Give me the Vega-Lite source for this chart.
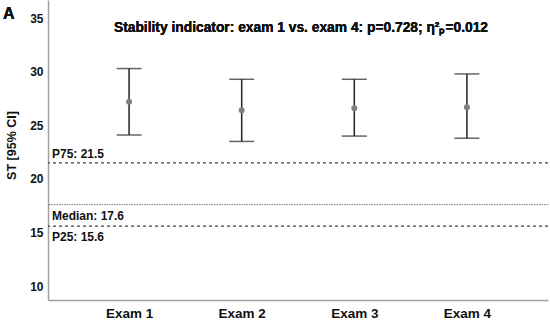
{
  "$schema": "https://vega.github.io/schema/vega-lite/v6.json",
  "width": 500,
  "height": 300,
  "autosize": {"type": "none"},
  "padding": {"left": 48, "top": 0, "right": 2, "bottom": 20},
  "background": "white",
  "config": {
    "view": {"stroke": null},
    "font": "Liberation Sans",
    "axis": {"grid": false, "ticks": false, "domainColor": "#a0a0a0", "domainWidth": 1.5, "labelFont": "Liberation Sans", "labelFontWeight": "bold", "labelColor": "#111", "titleFont": "Liberation Sans", "titleFontWeight": "bold", "titleColor": "#111"}
  },
  "datasets": {
    "exams": [
      {"exam": "Exam 1", "mean": 27.2, "lo": 24.1, "hi": 30.3},
      {"exam": "Exam 2", "mean": 26.4, "lo": 23.5, "hi": 29.3},
      {"exam": "Exam 3", "mean": 26.6, "lo": 24.0, "hi": 29.3},
      {"exam": "Exam 4", "mean": 26.7, "lo": 23.8, "hi": 29.8}
    ],
    "refs": [
      {"name": "P75", "value": 21.5, "label": "P75: 21.5", "x": 0},
      {"name": "Median", "value": 17.6, "label": "Median: 17.6", "x": 0},
      {"name": "P25", "value": 15.6, "label": "P25: 15.6", "x": 0}
    ]
  },
  "layer": [
    {
      "layer": [
        {
          "data": {"name": "refs"},
          "transform": [{"filter": "datum.name != 'Median'"}],
          "mark": {"type": "rule", "color": "#444", "strokeWidth": 1.2, "strokeDash": [3, 3]},
          "encoding": {"y": {"field": "value", "type": "quantitative", "scale": {"domain": [8.7, 36.7], "nice": false, "zero": false}}}
        },
        {
          "data": {"name": "refs"},
          "transform": [{"filter": "datum.name == 'Median'"}],
          "mark": {"type": "rule", "color": "#777", "strokeWidth": 1, "strokeDash": [1.5, 1]},
          "encoding": {"y": {"field": "value", "type": "quantitative"}}
        },
        {
          "data": {"name": "exams"},
          "mark": {"type": "rule", "color": "#222", "strokeWidth": 1.5},
          "encoding": {
            "x": {"field": "exam", "type": "nominal", "scale": {"type": "point", "padding": 0.72}, "axis": {"title": null, "labelAngle": 0, "labelFontSize": 13.5, "labelPadding": 6}},
            "y": {"field": "lo", "type": "quantitative", "axis": {"title": "ST [95% CI]", "titleFontSize": 12.5, "titleFontWeight": "bold", "titleY": 145, "values": [10, 15, 20, 25, 30, 35], "labelFontSize": 12, "labelPadding": 5, "titlePadding": 11}},
            "y2": {"field": "hi"}
          }
        },
        {
          "data": {"name": "exams"},
          "mark": {"type": "tick", "color": "#222", "thickness": 1.5, "size": 25, "orient": "horizontal"},
          "encoding": {
            "x": {"field": "exam", "type": "nominal"},
            "y": {"field": "lo", "type": "quantitative"}
          }
        },
        {
          "data": {"name": "exams"},
          "mark": {"type": "tick", "color": "#222", "thickness": 1.5, "size": 25, "orient": "horizontal"},
          "encoding": {
            "x": {"field": "exam", "type": "nominal"},
            "y": {"field": "hi", "type": "quantitative"}
          }
        },
        {
          "data": {"name": "exams"},
          "mark": {"type": "circle", "color": "#808080", "opacity": 1, "size": 36},
          "encoding": {
            "x": {"field": "exam", "type": "nominal"},
            "y": {"field": "mean", "type": "quantitative"}
          }
        }
      ]
    },
    {
      "data": {"name": "refs"},
      "layer": [
        {
          "transform": [{"filter": "datum.name == 'P75'"}],
          "mark": {"type": "text", "align": "left", "baseline": "middle", "dx": 4, "dy": -9, "fontSize": 12, "fontWeight": "bold", "color": "#111"},
          "encoding": {
            "x": {"field": "x", "type": "quantitative", "scale": {"domain": [0, 1]}, "axis": null},
            "y": {"field": "value", "type": "quantitative"},
            "text": {"field": "label"}
          }
        },
        {
          "transform": [{"filter": "datum.name != 'P75'"}],
          "mark": {"type": "text", "align": "left", "baseline": "middle", "dx": 4, "dy": 11, "fontSize": 12, "fontWeight": "bold", "color": "#111"},
          "encoding": {
            "x": {"field": "x", "type": "quantitative"},
            "y": {"field": "value", "type": "quantitative"},
            "text": {"field": "label"}
          }
        },
        {
          "mark": {"type": "text", "align": "center", "baseline": "middle", "fontSize": 13.8, "fontWeight": "bold", "color": "#111"},
          "encoding": {
            "x": {"datum": 0.506, "type": "quantitative"},
            "y": {"datum": 34.07, "type": "quantitative"},
            "text": {"value": "Stability indicator: exam 1 vs. exam 4: p=0.728; η²ₚ=0.012"}
          }
        },
        {
          "mark": {"type": "text", "align": "left", "baseline": "middle", "fontSize": 16, "fontWeight": "bold", "color": "#111"},
          "encoding": {
            "x": {"datum": -0.09, "type": "quantitative"},
            "y": {"datum": 35.37, "type": "quantitative"},
            "text": {"value": "A"}
          }
        }
      ]
    }
  ],
  "resolve": {"scale": {"x": "independent"}, "axis": {"x": "independent"}}
}
